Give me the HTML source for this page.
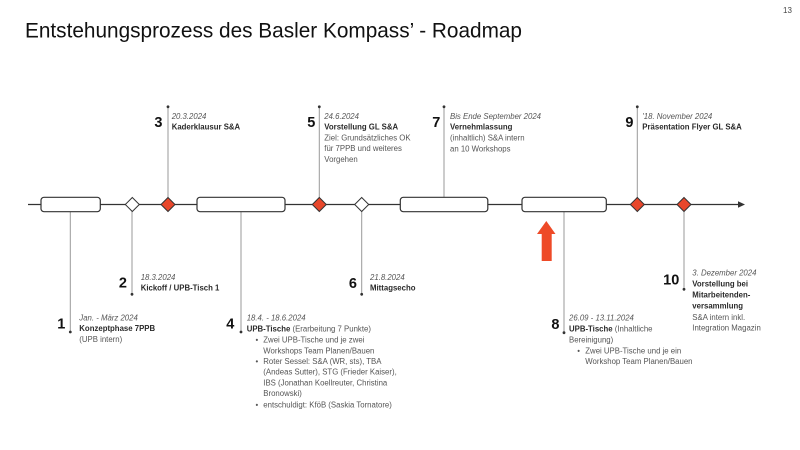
<!DOCTYPE html>
<html>
<head>
<meta charset="utf-8">
<style>
html,body{margin:0;padding:0;background:#fff;}
svg{display:block;}
.t{font-family:"Liberation Sans",Arial,sans-serif;}
.d{font-style:italic;fill:#555;font-size:7.8px;}
.b{font-weight:bold;fill:#2a2a2a;font-size:7.8px;}
.r{fill:#555;font-size:7.8px;}
.n{font-weight:bold;fill:#111;font-size:14.5px;}
</style>
</head>
<body>
<svg width="800" height="450" viewBox="0 0 800 450" xmlns="http://www.w3.org/2000/svg" class="t">
<rect width="800" height="450" fill="#fff"/>
<text x="25" y="37.5" font-size="21.5" fill="#111" textLength="497" lengthAdjust="spacingAndGlyphs">Entstehungsprozess des Basler Kompass’ - Roadmap</text>
<text x="783" y="13" font-size="8" fill="#444">13</text>

<!-- connectors -->
<g stroke="#9a9a9a" stroke-width="1">
<line x1="70.3" y1="212" x2="70.3" y2="332"/>
<line x1="132" y1="211" x2="132" y2="294"/>
<line x1="168" y1="198" x2="168" y2="107"/>
<line x1="241" y1="212" x2="241" y2="332"/>
<line x1="319.3" y1="198" x2="319.3" y2="107"/>
<line x1="361.7" y1="211" x2="361.7" y2="294"/>
<line x1="444" y1="197" x2="444" y2="107"/>
<line x1="564" y1="212" x2="564" y2="333"/>
<line x1="637.3" y1="198" x2="637.3" y2="107"/>
<line x1="684" y1="211" x2="684" y2="289"/>
</g>
<g fill="#333">
<circle cx="70.3" cy="332" r="1.4"/>
<circle cx="132" cy="294.3" r="1.4"/>
<circle cx="168" cy="106.8" r="1.4"/>
<circle cx="241" cy="332" r="1.4"/>
<circle cx="319.3" cy="106.8" r="1.4"/>
<circle cx="361.7" cy="294.3" r="1.4"/>
<circle cx="444" cy="106.8" r="1.4"/>
<circle cx="564" cy="332.7" r="1.4"/>
<circle cx="637.3" cy="106.8" r="1.4"/>
<circle cx="684" cy="289.3" r="1.4"/>
</g>

<!-- main line -->
<line x1="28" y1="204.5" x2="740" y2="204.5" stroke="#333" stroke-width="1.2"/>
<polygon points="745,204.5 738,201.3 738,207.7" fill="#333"/>

<!-- boxes -->
<g fill="#fff" stroke="#333" stroke-width="1.2">
<rect x="41" y="197.3" width="59.3" height="14.4" rx="3"/>
<rect x="197" y="197.3" width="88" height="14.4" rx="3"/>
<rect x="400.3" y="197.3" width="87.5" height="14.4" rx="3"/>
<rect x="522" y="197.3" width="84.3" height="14.4" rx="3"/>
</g>

<!-- diamonds -->
<g stroke="#333" stroke-width="1">
<polygon points="132.3,197.5 139.3,204.5 132.3,211.5 125.3,204.5" fill="#fff"/>
<polygon points="168,197.5 175,204.5 168,211.5 161,204.5" fill="#e8472b"/>
<polygon points="319.3,197.5 326.3,204.5 319.3,211.5 312.3,204.5" fill="#e8472b"/>
<polygon points="361.7,197.5 368.7,204.5 361.7,211.5 354.7,204.5" fill="#fff"/>
<polygon points="637.3,197.5 644.3,204.5 637.3,211.5 630.3,204.5" fill="#e8472b"/>
<polygon points="684,197.5 691,204.5 684,211.5 677,204.5" fill="#e8472b"/>
</g>

<!-- red arrow -->
<polygon points="546.3,221 555.5,234 551.7,234 551.7,261 541.7,261 541.7,234 537,234" fill="#ee4a27"/>

<!-- 3 -->
<text class="n" x="162.5" y="127" text-anchor="end">3</text>
<text class="d" x="171.7" y="119">20.3.2024</text>
<text class="b" x="171.7" y="129.5">Kaderklausur S&amp;A</text>

<!-- 5 -->
<text class="n" x="315.3" y="127" text-anchor="end">5</text>
<text class="d" x="324.3" y="119">24.6.2024</text>
<text class="b" x="324.3" y="129.5">Vorstellung GL S&amp;A</text>
<text class="r" x="324.3" y="140.5">Ziel: Grundsätzliches OK</text>
<text class="r" x="324.3" y="151.2">für 7PPB und weiteres</text>
<text class="r" x="324.3" y="162">Vorgehen</text>

<!-- 7 -->
<text class="n" x="440.3" y="127" text-anchor="end">7</text>
<text class="d" x="450" y="119">Bis Ende September 2024</text>
<text class="b" x="450" y="129.5">Vernehmlassung</text>
<text class="r" x="450" y="140.5">(inhaltlich) S&amp;A intern</text>
<text class="r" x="450" y="151.5">an 10 Workshops</text>

<!-- 9 -->
<text class="n" x="633.5" y="127" text-anchor="end">9</text>
<text class="d" x="642.3" y="119">'18. November 2024</text>
<text class="b" x="642.3" y="129.5">Präsentation Flyer GL S&amp;A</text>

<!-- 2 -->
<text class="n" x="127" y="287.5" text-anchor="end">2</text>
<text class="d" x="140.7" y="280">18.3.2024</text>
<text class="b" x="140.7" y="290.7">Kickoff / UPB-Tisch 1</text>

<!-- 6 -->
<text class="n" x="357" y="288" text-anchor="end">6</text>
<text class="d" x="370" y="280">21.8.2024</text>
<text class="b" x="370" y="290.7">Mittagsecho</text>

<!-- 1 -->
<text class="n" x="65.3" y="328.3" text-anchor="end">1</text>
<text class="d" x="79.3" y="320.7">Jan. - März 2024</text>
<text class="b" x="79.3" y="331">Konzeptphase 7PPB</text>
<text class="r" x="79.3" y="342">(UPB intern)</text>

<!-- 4 -->
<text class="n" x="234.3" y="328.3" text-anchor="end">4</text>
<text class="d" x="246.7" y="320.7">18.4. - 18.6.2024</text>
<text x="246.7" y="331.7" font-size="7.8"><tspan class="b">UPB-Tische</tspan><tspan class="r"> (Erarbeitung 7 Punkte)</tspan></text>
<text class="r" x="255.5" y="342.7">•</text>
<text class="r" x="263.3" y="342.7">Zwei UPB-Tische und je zwei</text>
<text class="r" x="263.3" y="353.3">Workshops Team Planen/Bauen</text>
<text class="r" x="255.5" y="364">•</text>
<text class="r" x="263.3" y="364">Roter Sessel: S&amp;A (WR, sts), TBA</text>
<text class="r" x="263.3" y="374.7">(Andeas Sutter), STG (Frieder Kaiser),</text>
<text class="r" x="263.3" y="385.3">IBS (Jonathan Koellreuter, Christina</text>
<text class="r" x="263.3" y="396">Bronowski)</text>
<text class="r" x="255.5" y="407.3">•</text>
<text class="r" x="263.3" y="407.3">entschuldigt: KföB (Saskia Tornatore)</text>

<!-- 8 -->
<text class="n" x="559.5" y="329" text-anchor="end">8</text>
<text class="d" x="569" y="320.7">26.09 - 13.11.2024</text>
<text x="569" y="331.7" font-size="7.8"><tspan class="b">UPB-Tische</tspan><tspan class="r"> (Inhaltliche</tspan></text>
<text class="r" x="569" y="342.7">Bereinigung)</text>
<text class="r" x="577.3" y="353.3">•</text>
<text class="r" x="585.3" y="353.3">Zwei UPB-Tische und je ein</text>
<text class="r" x="585.3" y="364">Workshop Team Planen/Bauen</text>

<!-- 10 -->
<text class="n" x="679.3" y="284.3" text-anchor="end">10</text>
<text class="d" x="692.3" y="275.7">3. Dezember 2024</text>
<text class="b" x="692.3" y="286.7">Vorstellung bei</text>
<text class="b" x="692.3" y="297.5">Mitarbeitenden-</text>
<text class="b" x="692.3" y="308.5">versammlung</text>
<text class="r" x="692.3" y="320">S&amp;A intern inkl.</text>
<text class="r" x="692.3" y="330.7">Integration Magazin</text>
</svg>
</body>
</html>
